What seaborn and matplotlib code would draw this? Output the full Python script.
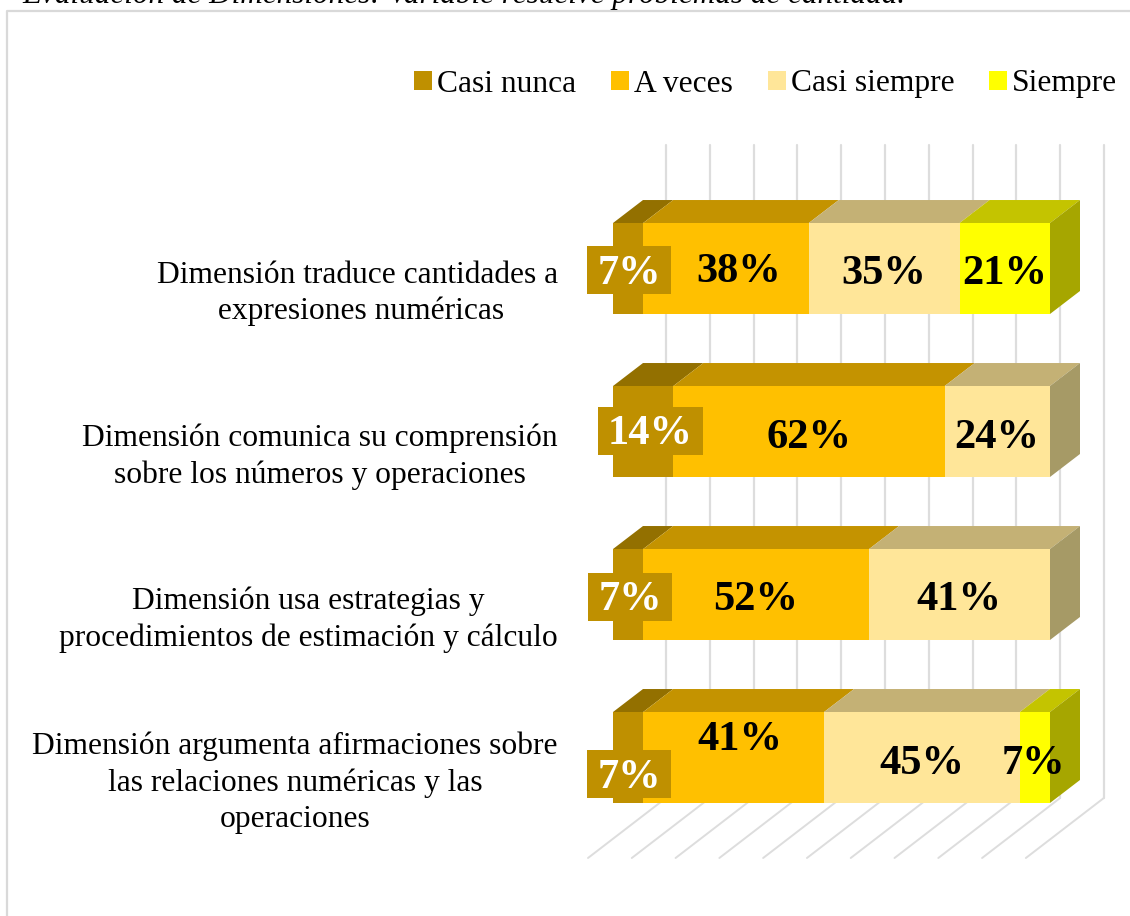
import matplotlib
matplotlib.use("Agg")
import matplotlib.pyplot as plt
from matplotlib.patches import Polygon, Rectangle
from matplotlib.lines import Line2D
from matplotlib.transforms import ScaledTranslation, IdentityTransform
import numpy as np
import pandas as pd
import seaborn as sns

categories = [
    "Dimensión traduce cantidades a\n expresiones numéricas",
    "Dimensión comunica su comprensión\nsobre los números y operaciones",
    "Dimensión usa estrategias y\nprocedimientos de estimación y cálculo",
    "Dimensión argumenta afirmaciones sobre\nlas relaciones numéricas y las\noperaciones",
]
series_names = ["Casi nunca", "A veces", "Casi siempre", "Siempre"]
casi_nunca = [6.9, 13.8, 6.9, 6.9]
a_veces = [37.9, 62.1, 51.7, 41.4]
casi_siempre = [34.5, 24.1, 41.4, 44.8]
siempre = [20.7, 0.0, 0.0, 6.9]
series_values = [casi_nunca, a_veces, casi_siempre, siempre]

front_colors = ["#BF9000", "#FFC000", "#FFE699", "#FFFF00"]
top_colors = ["#937000", "#C49300", "#C4B175", "#C4C400"]
side_colors = ["#8F6C00", "#BF9000", "#A69A66", "#A6A600"]
text_colors = ["white", "black", "black", "black"]

# label nudges in pixels from the centre of each segment (series, category)
label_nudges = {
    (0, 0): (1, 5), (1, 0): (13, 3), (2, 0): (0, 5), (3, 0): (0, 5),
    (0, 1): (7, 3), (1, 1): (0, 6), (2, 1): (-1, 6),
    (0, 2): (2, 6), (1, 2): (0, 6), (2, 2): (-1, 6),
    (0, 3): (1, 20), (1, 3): (6, -18), (2, 3): (0, 6), (3, 3): (-1, 6),
}

sns.set_theme(style="white")
plt.rcParams["font.family"] = ["Liberation Serif", "DejaVu Serif"]

W, H = 1130, 916
fig = plt.figure(figsize=(W / 100, H / 100), dpi=100, facecolor="white")
ax = fig.add_axes([613 / W, (H - 839) / H, 437 / W, 652 / H])

lefts = np.zeros(len(categories))
segments = []
for name, vals, col in zip(series_names, series_values, front_colors):
    df = pd.DataFrame({"cat": categories, "val": vals})
    sns.barplot(data=df, y="cat", x="val", left=lefts, color=col, saturation=1,
                width=0.558, orient="h", label=name, ax=ax, zorder=4, legend=False,
                linewidth=0, edgecolor="none")
    segments.append(lefts.copy())
    lefts = lefts + np.array(vals)

ax.set_xlim(0, 100)
ax.set_ylim(3.5, -0.5)
ax.set_xlabel("")
ax.set_ylabel("")
ax.set_xticks([])
for s in ax.spines.values():
    s.set_visible(False)

# 3-D depth in data units
px_x = 100 / 437
px_y = 4 / 652
dx, dy = 30 * px_x, 23 * px_y
half = 0.279

# back wall and floor grid
wall_x0, wall_step = 53 * px_x, 10.02
wall_top, wall_bot = (145 - 187) * px_y - 0.5, (798 - 187) * px_y - 0.5
floor_dx, floor_y = -78 * px_x, (858 - 187) * px_y - 0.5
for k in range(11):
    xk = wall_x0 + k * wall_step
    ax.add_line(Line2D([xk, xk], [wall_top, wall_bot], color="#DDDDDD", lw=1.6,
                       clip_on=False, zorder=1))
    ax.add_line(Line2D([xk, xk + floor_dx], [wall_bot, floor_y], color="#DDDDDD", lw=1.4,
                       clip_on=False, zorder=1))

# top and side faces
for j in range(len(categories)):
    top = j - half
    bot = j + half
    last = None
    for i, vals in enumerate(series_values):
        if vals[j] <= 0:
            continue
        l = segments[i][j]
        r = l + vals[j]
        ax.add_patch(Polygon([(l, top), (r, top), (r + dx, top - dy), (l + dx, top - dy)],
                             closed=True, fc=top_colors[i], ec="none", clip_on=False, zorder=3))
        last = (i, r)
    i, r = last
    ax.add_patch(Polygon([(r, top), (r + dx, top - dy), (r + dx, bot - dy), (r, bot)],
                         closed=True, fc=side_colors[i], ec="none", clip_on=False, zorder=3))

# data labels
renderer = fig.canvas.get_renderer()
for i, vals in enumerate(series_values):
    for j, v in enumerate(vals):
        if v <= 0:
            continue
        nx, ny = label_nudges[(i, j)]
        ann = ax.annotate(f"{int(v + 0.5)}%", xy=(segments[i][j] + v / 2, j), xytext=(nx, -ny),
                          textcoords="offset pixels", ha="center", va="center",
                          fontsize=30.5, fontweight="bold", color=text_colors[i],
                          annotation_clip=False, zorder=6)
        if i == 0:
            ext = ann.get_window_extent(renderer)
            ax.add_patch(Rectangle((ext.x0 - 10, (ext.y0 + ext.y1) / 2 - 20), ext.width + 20, 48,
                                   transform=IdentityTransform(), fc="#BF9000", ec="none",
                                   clip_on=False, zorder=5))

# category labels
ax.tick_params(axis="y", length=0, pad=55 * 0.72)
off = ScaledTranslation(0, -18 / 100, fig.dpi_scale_trans)
for t in ax.get_yticklabels():
    t.set_fontsize(22.7)
    t.set_color("black")
    t.set_multialignment("center")
    t.set_linespacing(1.32)
    t.set_transform(t.get_transform() + off)

# legend
handles = [Rectangle((0, 0), 1, 1, fc=c, ec="none") for c in front_colors]
fig.legend(handles, series_names, loc="center right", bbox_to_anchor=(1117 / W, (H - 84) / H),
           ncol=4, frameon=False, fontsize=22.7, handlelength=0.57, handleheight=0.57,
           handletextpad=0.16, columnspacing=1.1, borderpad=0, borderaxespad=0,
           labelcolor="black")

# chart frame and cropped caption above it
fig.add_artist(Line2D([7 / W, 7 / W, 1], [0, (H - 11) / H, (H - 11) / H], color="#D9D9D9", lw=1.6))
fig.text(22 / W, (H - 3) / H, "Evaluación de Dimensiones: Variable resuelve problemas de cantidad.",
         fontsize=22.4, style="italic", color="black", va="baseline", ha="left")

fig.savefig("out.png", dpi=100)
